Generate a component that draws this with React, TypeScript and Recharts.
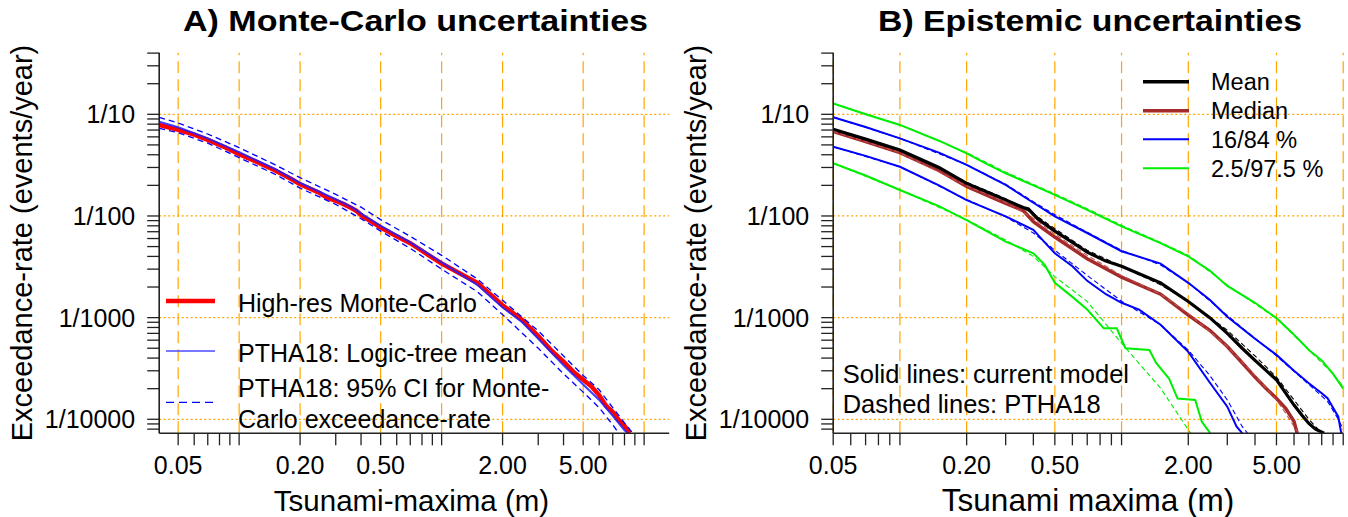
import { LineChart, Line, XAxis, YAxis, ReferenceLine } from "recharts";

type Pt = [number, number];

const FONT = "'Liberation Sans', Arial, Helvetica, sans-serif";
const AXIS = "#222";
const GRID = "#FFA500";

// axes
const xTicks = [0.05, 0.06, 0.07, 0.08, 0.09, 0.1, 0.2, 0.3, 0.4, 0.5, 0.6, 0.7, 0.8, 0.9, 1, 2, 3, 4, 5, 6, 7, 8, 9, 10];
const xMajor = [0.05, 0.2, 0.5, 2, 5];
const xMajorText = ["0.05", "0.20", "0.50", "2.00", "5.00"];
const xGrid = [0.05, 0.1, 0.2, 0.5, 1, 2, 5, 10];
const yTicks = [
  8e-5, 9e-5, 1e-4, 2e-4, 3e-4, 4e-4, 5e-4, 6e-4, 7e-4, 8e-4, 9e-4,
  1e-3, 2e-3, 3e-3, 4e-3, 5e-3, 6e-3, 7e-3, 8e-3, 9e-3,
  0.01, 0.02, 0.03, 0.04, 0.05, 0.06, 0.07, 0.08, 0.09, 0.1, 0.2, 0.3, 0.4,
];
const yMajor = [1e-4, 1e-3, 1e-2, 1e-1];
const yMajorText = ["1/10000", "1/1000", "1/100", "1/10"];
const yGrid = [1e-4, 1e-3, 1e-2, 1e-1];
const yDomain = [7.28e-5, 0.4037];
const xDomainA = [0.0403, 13.3];
const xDomainB = [0.05, 10];

// panel A
const mcHighRes: Pt[] = [
  [0.0403, 0.0785], [0.05, 0.0705], [0.06, 0.063], [0.07, 0.056], [0.085, 0.0475], [0.1, 0.0405],
  [0.12, 0.0345], [0.15, 0.0282], [0.18, 0.0232], [0.2, 0.0205], [0.25, 0.0168], [0.27, 0.0152],
  [0.3, 0.0141], [0.33, 0.013], [0.36, 0.0119], [0.38, 0.0112], [0.41, 0.0098], [0.45, 0.0088],
  [0.5, 0.0077], [0.6, 0.0063], [0.7, 0.0054], [0.85, 0.0042], [1, 0.0034], [1.2, 0.0028],
  [1.5, 0.0022], [1.8, 0.0016], [2, 0.00132], [2.5, 0.00095], [3, 0.00066], [3.5, 0.00047],
  [4, 0.00037], [4.5, 0.00029], [5, 0.000245], [5.5, 0.00021], [6, 0.000172], [6.5, 0.000135],
  [7, 0.000118], [7.5, 0.000098], [8, 0.000086], [8.5, 0.000073],
];
const pthaMean: Pt[] = [
  [0.0403, 0.0846], [0.05, 0.0745], [0.07, 0.058], [0.1, 0.0425], [0.15, 0.029], [0.2, 0.0212],
  [0.3, 0.0146], [0.36, 0.0122], [0.4, 0.0106], [0.5, 0.008], [0.7, 0.0055], [1, 0.0035],
  [1.5, 0.0021], [2, 0.00126], [2.5, 0.0009], [3, 0.00062], [4, 0.00034], [5, 0.00022],
  [6, 0.000155], [7, 0.000108], [8, 0.000078], [8.3, 0.000073],
];
const ciUpper: Pt[] = [
  [0.0403, 0.0934], [0.05, 0.082], [0.07, 0.064], [0.1, 0.047], [0.15, 0.032], [0.2, 0.0238],
  [0.3, 0.0163], [0.4, 0.0122], [0.5, 0.0092], [0.7, 0.0063], [1, 0.0041], [1.5, 0.0024],
  [2, 0.00148], [3, 0.00074], [4, 0.00042], [5, 0.00027], [6, 0.000195], [7, 0.00013],
  [8, 0.000092], [8.8, 0.000073],
];
const ciLower: Pt[] = [
  [0.0403, 0.0728], [0.05, 0.066], [0.07, 0.052], [0.1, 0.0375], [0.15, 0.0258], [0.2, 0.0188],
  [0.3, 0.013], [0.4, 0.0094], [0.5, 0.0071], [0.7, 0.0048], [1, 0.003], [1.5, 0.0018],
  [2, 0.00107], [3, 0.0005], [4, 0.00028], [5, 0.000185], [6, 0.00013], [7, 0.000088],
  [7.5, 0.000073],
];

// panel B, current model (solid)
const g97: Pt[] = [
  [0.05, 0.128], [0.07, 0.1], [0.1, 0.0786], [0.15, 0.055], [0.2, 0.0413], [0.25, 0.032],
  [0.3, 0.0263], [0.4, 0.02], [0.5, 0.0161], [0.7, 0.0115], [1, 0.0079], [1.5, 0.0054],
  [2, 0.004], [2.5, 0.0029], [3, 0.00205], [4, 0.0014], [5, 0.00099], [6, 0.00068],
  [7, 0.00048], [8, 0.00038], [9, 0.00028], [10, 0.0002],
];
const b84: Pt[] = [
  [0.05, 0.0934], [0.07, 0.075], [0.1, 0.058], [0.15, 0.042], [0.2, 0.0318], [0.3, 0.0202],
  [0.4, 0.0135], [0.5, 0.0099], [0.7, 0.0068], [1, 0.0045], [1.5, 0.0034], [2, 0.0022],
  [2.5, 0.0015], [3, 0.00102], [4, 0.00062], [5, 0.00043], [6, 0.0003], [7, 0.000226],
  [8, 0.00018], [8.5, 0.000161], [9.5, 0.000106], [9.8, 0.000073],
];
const meanB: Pt[] = [
  [0.05, 0.0712], [0.07, 0.057], [0.1, 0.0446], [0.15, 0.03], [0.2, 0.0209], [0.25, 0.017],
  [0.3, 0.0144], [0.36, 0.0121], [0.38, 0.0117], [0.42, 0.0093], [0.5, 0.0071], [0.6, 0.0055],
  [0.7, 0.0044], [0.85, 0.0036], [1, 0.0032], [1.2, 0.0027], [1.5, 0.0022], [2, 0.00144],
  [2.5, 0.001], [3, 0.0007], [3.5, 0.0005], [4, 0.00038], [5, 0.000244], [6, 0.000138],
  [6.5, 0.00011], [7, 0.000091], [7.5, 0.00008], [8.2, 0.000073],
];
const medianB: Pt[] = [
  [0.05, 0.0676], [0.07, 0.054], [0.1, 0.042], [0.15, 0.028], [0.2, 0.0195], [0.3, 0.0133],
  [0.36, 0.0113], [0.4, 0.0088], [0.5, 0.0062], [0.7, 0.0038], [1, 0.0025], [1.5, 0.0017],
  [2, 0.00106], [2.5, 0.00075], [3, 0.00052], [3.5, 0.00036], [4, 0.00026], [4.5, 0.0002],
  [5, 0.00016], [5.5, 0.000128], [6, 0.000095], [6.2, 0.000073],
];
const b16: Pt[] = [
  [0.05, 0.048], [0.07, 0.039], [0.1, 0.0305], [0.15, 0.02], [0.2, 0.0143], [0.3, 0.0099],
  [0.4, 0.0073], [0.45, 0.0055], [0.5, 0.0043], [0.6, 0.0032], [0.7, 0.0023], [0.85, 0.0017],
  [1, 0.0014], [1.2, 0.0012], [1.5, 0.00085], [2, 0.00046], [2.5, 0.00023], [3, 0.000133],
  [3.3, 0.000085], [3.5, 0.000073],
];
const g2_5: Pt[] = [
  [0.05, 0.033], [0.07, 0.025], [0.1, 0.018], [0.15, 0.0125], [0.2, 0.0091], [0.3, 0.0056],
  [0.4, 0.0043], [0.45, 0.0033], [0.5, 0.0022], [0.6, 0.0016], [0.7, 0.0012], [0.831, 0.000785],
  [0.952, 0.000785], [1.041, 0.0005], [1.335, 0.00048], [1.43, 0.00036], [1.64, 0.00025],
  [1.79, 0.00016], [2.15, 0.000155], [2.3, 0.000095], [2.51, 0.000073],
];

// panel B, PTHA18 (dashed)
const g97Old: Pt[] = [
  [0.05, 0.128], [0.1, 0.079], [0.2, 0.042], [0.3, 0.027], [0.5, 0.0165], [0.7, 0.0118],
  [1, 0.0081], [1.5, 0.0055], [2, 0.0041], [3, 0.0021], [5, 0.00098], [7, 0.00048],
  [9, 0.00028], [10, 0.00021],
];
const b84Old: Pt[] = [
  [0.05, 0.094], [0.1, 0.058], [0.2, 0.032], [0.3, 0.0205], [0.4, 0.0138], [0.5, 0.0103],
  [0.7, 0.0069], [1, 0.0046], [1.5, 0.0033], [2, 0.0022], [3, 0.00105], [5, 0.00042],
  [7, 0.00022], [8.5, 0.00015], [9.5, 0.0001], [10, 0.00008],
];
const meanOld: Pt[] = [
  [0.05, 0.072], [0.1, 0.045], [0.2, 0.0215], [0.3, 0.0148], [0.4, 0.0105], [0.5, 0.0075],
  [0.7, 0.0046], [1, 0.0032], [1.5, 0.0021], [2, 0.00145], [3, 0.00075], [4, 0.00042],
  [5, 0.00026], [6, 0.000155], [7, 0.0001], [8, 0.000073],
];
const medianOld: Pt[] = [
  [0.05, 0.068], [0.1, 0.042], [0.2, 0.0198], [0.3, 0.0136], [0.4, 0.0095], [0.5, 0.0066],
  [0.7, 0.0041], [1, 0.0026], [1.5, 0.0017], [2, 0.0011], [3, 0.00052], [4, 0.00027],
  [5, 0.000155], [5.5, 0.000115], [6, 0.000085], [6.3, 0.000073],
];
const b16Old: Pt[] = [
  [0.05, 0.048], [0.1, 0.0305], [0.2, 0.0145], [0.3, 0.0098], [0.4, 0.0068], [0.5, 0.0046],
  [0.7, 0.0026], [1, 0.00145], [1.5, 0.00085], [2, 0.00048], [2.5, 0.00027], [3, 0.000155],
  [3.5, 0.000085], [3.7, 0.000073],
];
const g2_5Old: Pt[] = [
  [0.05, 0.033], [0.1, 0.018], [0.2, 0.0092], [0.3, 0.0058], [0.4, 0.004], [0.5, 0.00253],
  [0.7, 0.00144], [1, 0.00056], [1.5, 0.000202], [2, 0.000079], [2.05, 0.000073],
];

const toRows = (pts: Pt[]) => pts.map(([x, y]) => ({ x, y }));

interface Series {
  pts: Pt[];
  color: string;
  width: number;
  dash?: string;
  opacity?: number;
}

const seriesA: Series[] = [
  { pts: mcHighRes, color: "#FF0000", width: 4.5 },
  { pts: pthaMean, color: "#2020FF", width: 2, opacity: 0.85 },
  { pts: ciUpper, color: "#0000FF", width: 1.3, dash: "6 4" },
  { pts: ciLower, color: "#0000FF", width: 1.3, dash: "6 4" },
];

const seriesB: Series[] = [
  { pts: g97, color: "#00EE00", width: 2 },
  { pts: g2_5, color: "#00EE00", width: 2 },
  { pts: b84, color: "#0000FF", width: 2 },
  { pts: b16, color: "#0000FF", width: 2 },
  { pts: medianB, color: "#A52A2A", width: 3.5 },
  { pts: meanB, color: "#000000", width: 3.2 },
  { pts: g97Old, color: "#00EE00", width: 1.1, dash: "5 3" },
  { pts: g2_5Old, color: "#00EE00", width: 1.1, dash: "5 3" },
  { pts: b84Old, color: "#0000FF", width: 1.1, dash: "5 3" },
  { pts: b16Old, color: "#0000FF", width: 1.1, dash: "5 3" },
  { pts: medianOld, color: "#C05050", width: 1.1, dash: "5 3" },
  { pts: meanOld, color: "#000000", width: 1.1, dash: "5 3" },
];

const legendBLabels = ["Mean", "Median", "16/84 %", "2.5/97.5 %"];
const legendBColors = ["#000000", "#A52A2A", "#0000FF", "#00EE00"];
const legendBWidths = [3.5, 3.5, 2, 2];

function XTick(props: any) {
  const { x, y, payload } = props;
  const i = xMajor.indexOf(payload.value);
  if (i < 0) return null;
  return (
    <text x={x} y={y + 28.7} textAnchor="middle" fontFamily={FONT} fontSize={25} fill="#000">
      {xMajorText[i]}
    </text>
  );
}

function YTick(props: any) {
  const { x, y, payload } = props;
  const i = yMajor.indexOf(payload.value);
  if (i < 0) return null;
  return (
    <text x={x} y={y + 9} textAnchor="end" fontFamily={FONT} fontSize={25} fill="#000">
      {yMajorText[i]}
    </text>
  );
}

function Panel({ left, xDomain, series }: { left: number; xDomain: number[]; series: Series[] }) {
  return (
    <div style={{ position: "absolute", left, top: 0 }}>
      <LineChart width={674} height={517} margin={{ top: 52.7, right: 4.8, bottom: 43.7, left: 0 }}>
        <XAxis
          type="number"
          dataKey="x"
          scale="log"
          domain={xDomain}
          allowDataOverflow
          ticks={xTicks}
          interval={0}
          tickSize={12}
          tickMargin={0}
          height={40}
          tick={<XTick />}
          axisLine={{ stroke: AXIS, strokeWidth: 1.6 }}
          tickLine={{ stroke: AXIS, strokeWidth: 1.3 }}
        />
        <YAxis
          type="number"
          scale="log"
          domain={yDomain}
          allowDataOverflow
          ticks={yTicks}
          interval={0}
          tickSize={12}
          tickMargin={12}
          width={159.2}
          tick={<YTick />}
          axisLine={{ stroke: AXIS, strokeWidth: 1.6 }}
          tickLine={{ stroke: AXIS, strokeWidth: 1.3 }}
        />
        {xGrid.map((v) => (
          <ReferenceLine key={"gx" + v} x={v} stroke={GRID} strokeWidth={1.2} strokeDasharray="12 6" />
        ))}
        {yGrid.map((v) => (
          <ReferenceLine key={"gy" + v} y={v} stroke={GRID} strokeWidth={1.3} strokeDasharray="2 2.5" />
        ))}
        {series.map((s, i) => (
          <Line
            key={i}
            data={toRows(s.pts)}
            dataKey="y"
            type="linear"
            stroke={s.color}
            strokeWidth={s.width}
            strokeDasharray={s.dash}
            strokeOpacity={s.opacity ?? 1}
            dot={false}
            activeDot={false}
            isAnimationActive={false}
          />
        ))}
      </LineChart>
    </div>
  );
}

export default function App() {
  const t = { fontFamily: FONT, fill: "#000" };
  return (
    <div style={{ position: "absolute", left: 0, top: 0, width: 1348, height: 517, background: "#fff", overflow: "hidden" }}>
      <Panel left={0} xDomain={xDomainA} series={seriesA} />
      <Panel left={674} xDomain={xDomainB} series={seriesB} />
      <svg width={1348} height={517} style={{ position: "absolute", left: 0, top: 0, pointerEvents: "none" }}>
        {/* titles */}
        <text x={415.5} y={30.7} textAnchor="middle" fontWeight="bold" fontSize={30} textLength={465} lengthAdjust="spacingAndGlyphs" {...t}>
          A) Monte-Carlo uncertainties
        </text>
        <text x={1090} y={30.7} textAnchor="middle" fontWeight="bold" fontSize={30} textLength={424} lengthAdjust="spacingAndGlyphs" {...t}>
          B) Epistemic uncertainties
        </text>

        {/* axis titles */}
        <text x={411.5} y={511} textAnchor="middle" fontSize={29.5} {...t}>Tsunami-maxima (m)</text>
        <text x={1088} y={511} textAnchor="middle" fontSize={31.5} {...t}>Tsunami maxima (m)</text>
        <text transform="translate(32,243) rotate(-90)" textAnchor="middle" fontSize={29} {...t}>Exceedance-rate (events/year)</text>
        <text transform="translate(706,243) rotate(-90)" textAnchor="middle" fontSize={29} {...t}>Exceedance-rate (events/year)</text>

        {/* legend A */}
        <line x1={166} x2={215} y1={301} y2={301} stroke="#FF0000" strokeWidth={4.5} />
        <text x={238} y={311.7} fontSize={25} {...t}>High-res Monte-Carlo</text>
        <line x1={166} x2={215} y1={351} y2={351} stroke="#4A4AFF" strokeWidth={1.6} />
        <text x={238} y={361.7} fontSize={25} {...t}>PTHA18: Logic-tree mean</text>
        <line x1={166} x2={215} y1={402.3} y2={402.3} stroke="#0000FF" strokeWidth={1.3} strokeDasharray="8 5" />
        <text x={238} y={396.7} fontSize={25} {...t}>PTHA18: 95% CI for Monte-</text>
        <text x={238} y={427.7} fontSize={25} {...t}>Carlo exceedance-rate</text>

        {/* legend B */}
        {legendBLabels.map((lab, i) => {
          const yy = [81.7, 110.7, 139.3, 168.3][i];
          return (
            <g key={lab}>
              <line x1={1143} x2={1189} y1={yy} y2={yy} stroke={legendBColors[i]} strokeWidth={legendBWidths[i]} />
              <text x={1211} y={yy + 8.3} fontSize={23.5} {...t}>{lab}</text>
            </g>
          );
        })}

        {/* note B */}
        <text x={842.7} y={382.7} fontSize={25.5} {...t}>Solid lines: current model</text>
        <text x={842.7} y={413} fontSize={25.5} {...t}>Dashed lines: PTHA18</text>
      </svg>
    </div>
  );
}
